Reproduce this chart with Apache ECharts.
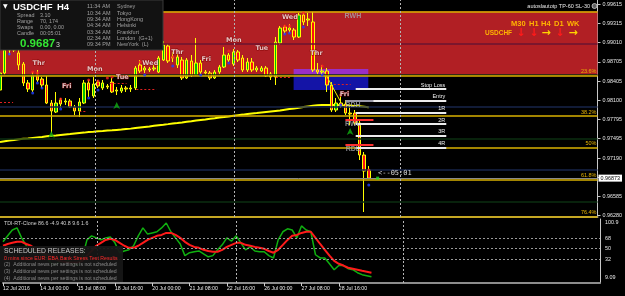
<!DOCTYPE html>
<html><head><meta charset="utf-8">
<script src="https://cdn.jsdelivr.net/npm/echarts@6/dist/echarts.min.js"></script>
<style>html,body{margin:0;padding:0;background:#000;overflow:hidden}#c{width:625px;height:296px}</style>
</head><body><div id="c"></div>
<script>
// ---------- DATA ----------
const tickLabels = ['12 Jul 2016','14 Jul 00:00','15 Jul 08:00','18 Jul 16:00','20 Jul 00:00','21 Jul 08:00','22 Jul 16:00','26 Jul 00:00','27 Jul 08:00','28 Jul 16:00'];
const priceTicks = [0.99615,0.99315,0.99010,0.98705,0.98405,0.98100,0.97795,0.97495,0.97190,0.96885,0.96585,0.96280];
const tdiTicks = [100.9,68,50,32,9.09];

const opens = [0.98263,0.98531,0.98894,0.98989,0.98847,0.98673,0.98374,0.98263,0.98500,0.98437,
0.98342,0.98058,0.97916,0.98105,0.98074,0.98090,0.97995,0.97932,0.98058,0.98374,
0.98169,0.98389,0.98295,0.98326,0.98389,0.98247,0.98247,0.98295,0.98279,0.98295,
0.98658,0.98579,0.98579,0.98595,0.98547,0.98736,0.98957,0.98768,0.98658,0.98736,
0.98453,0.98721,0.98500,0.98689,0.98547,0.98531,0.98453,0.98547,0.98626,0.98815,
0.98673,0.98863,0.98768,0.98579,0.98705,0.98579,0.98563,0.98610,0.98516,0.98468,
0.99005,0.99257,0.99210,0.99210,0.99099,0.99446,0.99367,0.99336,0.98579,0.98547,
0.98563,0.98342,0.97948,0.98058,0.98042,0.97900,0.97900,0.97743,0.97238,0.97001];
const closes = [0.98531,0.98894,0.98973,0.98894,0.98658,0.98374,0.98279,0.98500,0.98421,0.98342,
0.98058,0.97932,0.98058,0.98042,0.98090,0.97995,0.97932,0.98074,0.98374,0.98263,
0.98358,0.98326,0.98374,0.98311,0.98232,0.98263,0.98295,0.98279,0.98295,0.98610,
0.98563,0.98610,0.98595,0.98610,0.98768,0.98973,0.98721,0.98784,0.98784,0.98453,
0.98736,0.98500,0.98689,0.98547,0.98531,0.98453,0.98547,0.98626,0.98815,0.98736,
0.98863,0.98736,0.98579,0.98705,0.98579,0.98610,0.98610,0.98484,0.98468,0.99020,
0.99241,0.99194,0.99241,0.99099,0.99446,0.99336,0.99383,0.98579,0.98547,0.98563,
0.98342,0.97948,0.98058,0.98011,0.97900,0.97885,0.97743,0.97238,0.96985,0.96873];
const lows = [0.98232,0.98500,0.98815,0.98863,0.98579,0.98326,0.98232,0.98232,0.98389,0.98295,
0.98042,0.97585,0.97900,0.97979,0.98027,0.97979,0.97869,0.97837,0.98042,0.98153,
0.98137,0.98295,0.98263,0.98279,0.98216,0.98184,0.98216,0.98232,0.98232,0.98263,
0.98531,0.98531,0.98547,0.98563,0.98531,0.98721,0.98689,0.98705,0.98610,0.98421,
0.98437,0.98468,0.98484,0.98516,0.98500,0.98421,0.98437,0.98516,0.98610,0.98705,
0.98642,0.98705,0.98547,0.98547,0.98547,0.98547,0.98547,0.98468,0.98421,0.98342,
0.98973,0.99147,0.99162,0.99052,0.99084,0.99289,0.99273,0.98547,0.98516,0.98484,
0.98232,0.97916,0.97916,0.97979,0.97869,0.97711,0.97711,0.97159,0.96339,0.96859];
const highs = [0.98579,0.98973,0.99084,0.99084,0.98894,0.98705,0.98421,0.98547,0.98579,0.98468,
0.98484,0.98105,0.98232,0.98137,0.98137,0.98121,0.98027,0.98137,0.98421,0.98421,
0.98468,0.98421,0.98421,0.98358,0.98453,0.98311,0.98342,0.98326,0.98342,0.98642,
0.98736,0.98642,0.98626,0.98658,0.98800,0.99036,0.98989,0.98863,0.98831,0.98784,
0.98768,0.98815,0.99084,0.98736,0.98579,0.98563,0.98579,0.98658,0.98942,0.98847,
0.98910,0.98894,0.98815,0.98768,0.98768,0.98642,0.98642,0.98642,0.98547,0.99099,
0.99273,0.99289,0.99304,0.99241,0.99478,0.99494,0.99478,0.99494,0.98689,0.98658,
0.98610,0.98389,0.98137,0.98184,0.98105,0.98027,0.97948,0.97790,0.97285,0.97064];
const ma = [0.97443,0.97454,0.97465,0.97474,0.97486,0.97493,0.97500,0.97508,0.97516,0.97522,
0.97533,0.97541,0.97547,0.97555,0.97563,0.97569,0.97577,0.97585,0.97591,0.97599,
0.97605,0.97612,0.97616,0.97623,0.97628,0.97634,0.97640,0.97648,0.97654,0.97664,
0.97673,0.97681,0.97689,0.97699,0.97708,0.97716,0.97725,0.97735,0.97743,0.97752,
0.97762,0.97771,0.97781,0.97790,0.97799,0.97809,0.97818,0.97828,0.97837,0.97847,
0.97858,0.97867,0.97875,0.97885,0.97893,0.97900,0.97908,0.97916,0.97924,0.97932,
0.97940,0.97951,0.97962,0.97973,0.97984,0.97995,0.98005,0.98014,0.98022,0.98027,
0.98028,0.98028,0.98027,0.98023,0.98020,0.98017,0.98012,0.98006,0.97998,0.97990];
const tdiGreen = [61.7,72,82,85.6,68.5,55,44.6,48,43,38,
27.5,21,27.5,27.5,29,24,21,34,65,72,
68.5,65,68.5,70,60,43,46,48,55,72,
85.6,75,77,79,85.6,94,79,68.5,58,38,
43,44.6,46,41,36,38,48,56.5,68.5,63,
72,60,48,53,46,44.6,44.6,38,34,65,
79,84,82,68.5,89,82,79,39.5,34,34,
24,13.8,21,21,15.5,13.8,8.7,5.3,3.6,1.9];
const tdiRed = [55,58,60,61.7,61.7,58,55,49.7,44.6,41,
38,33,29,27.5,26,26,26,29,38,46,
55,60,65,67,65,60,55,51.4,51.4,55,
60,65,68.5,72,73.6,77,77,73.6,68.5,61.7,
56.5,53,51.4,48,46,44.6,44.6,48,53,56.5,
60,60,56.5,55,53,51.4,49.7,46,43,48,
56.5,65,72,73.6,77,79,79,68.5,58,48,
38,29,24,21,17.2,15.5,13.8,12,10.4,8.7];
const tdiLevels = [68,50,32];

const redZone = [0.99500, 0.98489];
const fibLevels = [0.99500, 0.98489, 0.97853, 0.97353, 0.96846, 0.96270];
const fibNames = ['', '23.6%', '38.2%', '50%', '61.8%', '76.4%'];
const roundLevels = [0.99000, 0.98500, 0.98000, 0.97500, 0.97000, 0.96500];
const lastPrice = 0.96873;
const rrLevels = [0.98279, 0.98094, 0.97912, 0.97727, 0.97542, 0.97359];
const rrNames = ['Stop Loss','Entry','1R','2R','3R','4R'];
const boxPrices = [0.98595, 0.98263];
const boxBars = [62.9, 78.9];
const refNames = ['RWH','RDH','RWL','RDL'];
const refPrices = [0.99431, 0.98027, 0.97727, 0.97333];
const refLinePrices = [0.98090, 0.97790, 0.97396];
const dayNames = ['Thr','Fri','Mon','Tue','Wed','Thr','Fri','Mon','Tue','Wed','Thr','Fri'];
const dayBars = [8.3,14.3,20.3,26.2,32.2,38,44.2,50.1,56.1,62.1,67.8,73.8];
const dayPrices = [0.98689,0.98326,0.98595,0.98468,0.98689,0.98863,0.98752,0.99052,0.98926,0.99415,0.98847,0.98200];
const redDots = [[7,0.98547],[8,0.98531],[13,0.98121],[19,0.98421],[21,0.98405],[23,0.98453],[24,0.98468],[30,0.98705],[37,0.98784],[49,0.98878],[61,0.99273],[62,0.99273],[65,0.99478],[69,0.98642],[73,0.98184],[79,0.97001]];
const blueDots = [[2,0.98831],[7,0.98216],[8,0.98374],[9,0.98295],[13,0.97963],[19,0.98137],[21,0.98263],[31,0.98500],[37,0.98642],[43,0.98500],[49,0.98689],[61,0.99147],[62,0.99162],[65,0.99257],[69,0.98500],[73,0.98027],[79,0.96765]];
const greenArrows = [[11,0.97617],[25,0.98074],[75,0.97664]];
const redDotted = [[0,2.8,0.98074],[17,18.4,0.97932],[23.5,27.1,0.98374],[29.2,33.5,0.98279],[59.1,62.5,0.98468],[71.5,75.1,0.98358]];
const zigzag = [[69.5,0.98547],[73,0.98074]];
const separators = [20.3, 50.1, 85.8];

// ---------- CHART ----------
const NSLOT = 129;
const slots = Array.from({length:NSLOT}, (_, i) => String(i));
const showTick = (i) => i % 8 === 0 && i / 8 < tickLabels.length;
const F = 'Liberation Sans, Arial, sans-serif';
const candles = opens.map((o, i) => [o, closes[i], lows[i], highs[i]]);

const chart = echarts.init(document.getElementById('c'));
const T = (x, y, text, size, fill, opts) => Object.assign({
  type: 'text', x, y, z: 101,
  style: Object.assign({text, font: size + 'px ' + F, fill, verticalAlign: 'middle', align: 'left'}, (opts || {}).style || {})
}, (opts || {}).el || {});

const rrLineData = rrLevels.map((p, i) => [
  {coord: [76.2, p], lineStyle: {color: '#ececec', width: 2, type: 'solid'},
   label: {show: true, formatter: rrNames[i], position: 'insideEndTop', color: '#f0f0f0', fontSize: 5.5, fontFamily: F, distance: 1}},
  {coord: [95.6, p]}
]);
const refLineColors = ['#9a9aa8', '#ff3030', '#ff3030'];
const refLineData = refLinePrices.map((p, i) => [
  {coord: [74, p], lineStyle: {color: refLineColors[i], width: 2, type: 'solid'}, label: {show: false}},
  {coord: [80, p]}
]);
const dottedData = redDotted.map(d => [
  {coord: [d[0], d[2]], lineStyle: {color: '#e02020', width: 1, type: [2, 2]}, label: {show: false}},
  {coord: [d[1], d[2]]}
]);

const option = {
  backgroundColor: '#000',
  animation: false,
  grid: [{left: 0, top: 0, width: 600, height: 217}, {left: 0, top: 219, width: 600, height: 64}],
  xAxis: [
    {type: 'category', gridIndex: 0, data: slots, boundaryGap: false,
     axisLine: {show: true, onZero: false, lineStyle: {color: '#8c8c8c', width: 2}},
     axisTick: {show: false}, axisLabel: {show: false}, splitLine: {show: false}},
    {type: 'category', gridIndex: 1, data: slots, boundaryGap: false,
     axisLine: {show: true, onZero: false, lineStyle: {color: '#8c8c8c', width: 2}},
     axisTick: {show: true, interval: (i) => showTick(i), length: 3, lineStyle: {color: '#d0d0d0'}},
     axisLabel: {show: true, interval: (i) => showTick(i), formatter: (v, i) => tickLabels[i / 8] || '',
       align: 'left', color: '#e8e8e8', fontSize: 5.2, margin: 3, fontFamily: F},
     splitLine: {show: false}},
    {type: 'value', gridIndex: 0, min: 0, max: NSLOT - 1, show: false},
    {type: 'value', gridIndex: 1, min: 0, max: NSLOT - 1, show: false}
  ],
  yAxis: [
    {type: 'value', gridIndex: 0, position: 'right', min: 0.96260, max: 0.99683,
     axisLine: {show: true, onZero: false, lineStyle: {color: '#c8c8c8'}},
     axisTick: {show: true, customValues: priceTicks, length: 3, lineStyle: {color: '#c8c8c8'}},
     axisLabel: {show: true, customValues: priceTicks, formatter: v => v.toFixed(5), color: '#e8e8e8', fontSize: 5.4, margin: 5, fontFamily: F},
     splitLine: {show: false}},
    {type: 'value', gridIndex: 1, position: 'right', min: -9, max: 100.9,
     axisLine: {show: true, onZero: false, lineStyle: {color: '#c8c8c8'}},
     axisTick: {show: false},
     axisLabel: {show: true, customValues: tdiTicks, color: '#e8e8e8', fontSize: 5.4, margin: 5, fontFamily: F,
       formatter: v => Math.abs(v - 100.9) < 0.01 ? '{t|100.9}' : (Math.abs(v - 9.09) < 0.01 ? '{b|9.09}' : String(v)),
       rich: {t: {padding: [7, 0, 0, 0], color: '#e8e8e8', fontSize: 5.4, fontFamily: F}, b: {padding: [10, 0, 0, 0], color: '#e8e8e8', fontSize: 5.4, fontFamily: F}}},
     splitLine: {show: false}}
  ],
  series: [
    // background zones and horizontal levels
    {type: 'line', xAxisIndex: 2, yAxisIndex: 0, data: [[0, 0.98]], symbol: 'none', lineStyle: {opacity: 0}, silent: true, z: 1,
     markArea: {silent: true, data: [
       [{coord: [0, redZone[0]], itemStyle: {color: '#b11f24'}}, {coord: [NSLOT - 1, redZone[1]]}],
       [{coord: [boxBars[0], boxPrices[0]], itemStyle: {color: '#9a2ec6'}}, {coord: [boxBars[1], redZone[1]]}],
       [{coord: [boxBars[0], redZone[1]], itemStyle: {color: '#1414a6'}}, {coord: [boxBars[1], boxPrices[1]]}]
     ]},
     markLine: {silent: true, precision: 6, symbol: ['none', 'none'], data: [
       ...roundLevels.map((p, i) => ({yAxis: p, lineStyle: {color: i === 0 ? '#6b1430' : (i % 2 ? '#0b2e10' : '#17244a'), width: 1.5, type: 'solid'}, label: {show: false}})),
       ...fibLevels.map((p, i) => ({yAxis: p, lineStyle: {color: '#d8b000', width: 1.5, type: 'solid'},
          label: {show: !!fibNames[i], formatter: fibNames[i], position: 'insideEndTop', color: '#e8b400', fontSize: 5.5, fontFamily: F, distance: 1}})),
       {yAxis: lastPrice, lineStyle: {color: '#8a8a8a', width: 1, type: 'solid'},
        label: {show: true, position: 'end', formatter: lastPrice.toFixed(5), backgroundColor: '#ffffff', color: '#000', fontSize: 5.4, fontFamily: F, padding: [1, 2], distance: 1}},
       ...separators.map(x => ({xAxis: x, lineStyle: {color: '#b4b4b4', width: 1, type: [2, 2]}, label: {show: false}})),
       ...dottedData
     ]}},
    // MA
    {type: 'line', xAxisIndex: 0, yAxisIndex: 0, data: ma, symbol: 'none', silent: true, z: 2,
     lineStyle: {color: '#ffff00', width: 2}},
    // candles
    {type: 'candlestick', xAxisIndex: 0, yAxisIndex: 0, data: candles, barWidth: 3, z: 3,
     itemStyle: {color: '#00c000', color0: '#ff1010', borderColor: '#ffff00', borderColor0: '#ffff00', borderWidth: 1}},
    // zigzag
    {type: 'line', xAxisIndex: 2, yAxisIndex: 0, data: zigzag, symbol: 'none', silent: true, z: 4,
     lineStyle: {color: '#f0f000', width: 1}},
    // fractal dots
    {type: 'scatter', xAxisIndex: 0, yAxisIndex: 0, data: redDots, symbolSize: 3, z: 5, itemStyle: {color: '#ff2020'}},
    {type: 'scatter', xAxisIndex: 0, yAxisIndex: 0, data: blueDots, symbolSize: 3, z: 5, itemStyle: {color: '#2040ff'}},
    {type: 'scatter', xAxisIndex: 0, yAxisIndex: 0, data: greenArrows, symbol: 'arrow', symbolSize: [5, 7], z: 5, itemStyle: {color: '#10b010'}},
    // day labels
    {type: 'scatter', xAxisIndex: 2, yAxisIndex: 0, symbolSize: 0, z: 6,
     data: dayBars.map((x, i) => [x, dayPrices[i], dayNames[i]]),
     label: {show: true, position: 'inside', formatter: p => p.value[2], color: '#fff2f2', fontSize: 6.5, fontWeight: 'bold', fontFamily: 'DejaVu Sans', textBorderColor: '#7a0000', textBorderWidth: 1}},
    // reference labels
    {type: 'scatter', xAxisIndex: 2, yAxisIndex: 0, symbolSize: 0, z: 6,
     data: refPrices.map((p, i) => [75.6, p, refNames[i]]),
     label: {show: true, position: 'inside', formatter: p => p.value[2], color: '#a8a8b0', fontSize: 7, fontWeight: 'bold', fontFamily: F}},
    // RR lines
    {type: 'line', xAxisIndex: 2, yAxisIndex: 0, data: [[0, 0.98]], symbol: 'none', lineStyle: {opacity: 0}, silent: true, z: 6,
     markLine: {silent: true, precision: 6, symbol: ['none', 'none'], data: [...rrLineData, ...refLineData]}},
    // timer dot
    {type: 'scatter', xAxisIndex: 2, yAxisIndex: 0, data: [[80.9, lastPrice]], symbol: 'rect', symbolSize: 3, z: 6, itemStyle: {color: '#20e020'}},
    // TDI
    {type: 'line', xAxisIndex: 3, yAxisIndex: 1, data: [[0, 50]], symbol: 'none', lineStyle: {opacity: 0}, silent: true, z: 1,
     markLine: {silent: true, precision: 4, symbol: ['none', 'none'], data: [
       ...tdiLevels.map(v => ({yAxis: v, lineStyle: {color: '#9a9a9a', width: 1, type: [2, 2]}, label: {show: false}})),
       ...separators.map(x => ({xAxis: x, lineStyle: {color: '#b4b4b4', width: 1, type: [2, 2]}, label: {show: false}}))
     ]}},
    {type: 'line', xAxisIndex: 1, yAxisIndex: 1, data: tdiGreen, symbol: 'none', silent: true, z: 3, lineStyle: {color: '#10b010', width: 1.5}},
    {type: 'line', xAxisIndex: 1, yAxisIndex: 1, data: tdiRed, symbol: 'none', silent: true, z: 4, lineStyle: {color: '#ff1a1a', width: 2}}
  ],
  graphic: [
    // info panel
    {type: 'rect', z: 100, shape: {x: 0, y: 0, width: 163, height: 50}, style: {fill: '#121212', stroke: '#3a3a3a', lineWidth: 1}},
    T(3, 6, '▼', 6, '#ffffff', {style: {font: '6px DejaVu Sans'}}),
    T(13, 7.5, 'USDCHF', 9.5, '#ffffff', {style: {font: 'bold 9.5px ' + F}}),
    T(57, 7.5, 'H4', 9.5, '#ffffff', {style: {font: 'bold 9.5px ' + F}}),
    ...['Spread', 'Range', 'Swaps', 'Candle'].map((s, i) => T(17, 15.7 + 6 * i, s, 5.4, '#a0a0a0')),
    ...['3.10', '70, 174', '0.00, 0.00', '00:05:01'].map((s, i) => T(40, 15.7 + 6 * i, s, 5.4, '#a0a0a0')),
    T(20, 43.5, '0.9687', 11.5, '#33e633', {style: {font: 'bold 11.5px ' + F}}),
    T(56, 45.5, '3', 7, '#cfd8cf'),
    ...['11:34 AM', '10:34 AM', '09:34 AM', '04:34 AM', '03:34 AM', '02:34 AM', '09:34 PM'].map((s, i) => T(87, 6.7 + 6.35 * i, s, 5.5, '#a0a0a0')),
    ...['Sydney', 'Tokyo', 'HongKong', 'Helsinki', 'Frankfurt', 'London  (G+1)', 'NewYork  (L)'].map((s, i) => T(117, 6.7 + 6.35 * i, s, 5.5, '#a0a0a0')),
    // top right
    T(590, 6, 'autoslautotp TP-60 SL-30', 5.5, '#e8e8e8', {style: {align: 'right'}}),
    {type: 'circle', z: 101, shape: {cx: 594.5, cy: 6, r: 2.5}, style: {fill: '#606060', stroke: '#d0d0d0', lineWidth: 0.8}},
    T(511, 24, 'M30', 7.5, '#ffb400', {style: {font: 'bold 7.5px ' + F}}),
    T(529, 24, 'H1', 7.5, '#ffb400', {style: {font: 'bold 7.5px ' + F}}),
    T(541, 24, 'H4', 7.5, '#ffb400', {style: {font: 'bold 7.5px ' + F}}),
    T(554, 24, 'D1', 7.5, '#ffb400', {style: {font: 'bold 7.5px ' + F}}),
    T(567, 24, 'WK', 7.5, '#ffb400', {style: {font: 'bold 7.5px ' + F}}),
    T(485, 33.5, 'USDCHF', 6.5, '#ffb400', {style: {font: 'bold 6.5px ' + F}}),
    T(521, 33.5, '↓', 11, '#ff1a1a', {style: {font: 'bold 11px DejaVu Sans', align: 'center'}}),
    T(534, 33.5, '↓', 11, '#ff1a1a', {style: {font: 'bold 11px DejaVu Sans', align: 'center'}}),
    T(546, 33.5, '→', 11, '#ffd400', {style: {font: 'bold 11px DejaVu Sans', align: 'center'}}),
    T(560, 33.5, '↓', 11, '#ff1a1a', {style: {font: 'bold 11px DejaVu Sans', align: 'center'}}),
    T(573, 33.5, '→', 11, '#ffd400', {style: {font: 'bold 11px DejaVu Sans', align: 'center'}}),
    // timer
    T(378, 173.5, '<--05:01', 7, '#d8d8d8', {style: {font: '7px DejaVu Sans Mono'}}),
    // TDI caption
    T(4, 224, 'TDI-RT-Clone 86.6 -4.9 40.8 9.6 1.6', 5.3, '#d0d0d0'),
    // scheduled releases
    {type: 'rect', z: 100, shape: {x: 0, y: 246, width: 123, height: 36}, style: {fill: 'rgba(22,22,22,0.95)'}},
    T(4, 251.5, 'SCHEDULED RELEASES:', 6.8, '#c8c8c8'),
    T(4, 258.3, '0 mins since EUR: EBA Bank Stress Test Results', 5.2, '#ff2a2a'),
    T(4, 265, '(2)  Additional news per settings is not scheduled', 5.2, '#8a8a8a'),
    T(4, 271.6, '(3)  Additional news per settings is not scheduled', 5.2, '#8a8a8a'),
    T(4, 278.2, '(4)  Additional news per settings is not scheduled', 5.2, '#8a8a8a')
  ]
};
chart.setOption(option);
</script>
</body></html>
